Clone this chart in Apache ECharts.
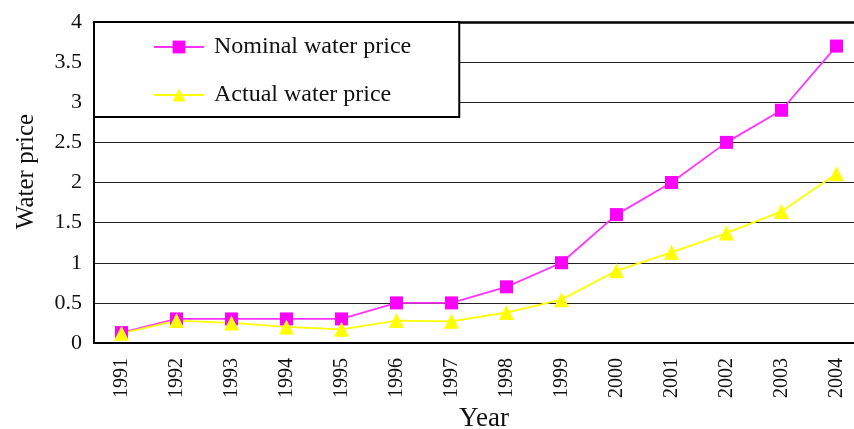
<!DOCTYPE html>
<html>
<head>
<meta charset="utf-8">
<script src="https://cdn.jsdelivr.net/npm/echarts@6/dist/echarts.min.js"></script>
<style>html,body{margin:0;padding:0;background:#fff;}#c{width:854px;height:429px;}</style>
</head>
<body>
<div id="c"></div>
<script>
const years = ['1991','1992','1993','1994','1995','1996','1997','1998','1999','2000','2001','2002','2003','2004'];
const nominalPrice = [0.13, 0.3, 0.3, 0.3, 0.3, 0.5, 0.5, 0.7, 1.0, 1.6, 2.0, 2.5, 2.9, 3.7];
const actualPrice = [0.12, 0.28, 0.25, 0.2, 0.17, 0.28, 0.27, 0.38, 0.54, 0.9, 1.13, 1.37, 1.64, 2.11];
const yTickLabels = ['0','0.5','1','1.5','2','2.5','3','3.5','4'];

const font = 'Liberation Serif';
const chart = echarts.init(document.getElementById('c'));
chart.setOption({
  animation: false,
  backgroundColor: '#fff',
  grid: {left: 94, right: -10, top: 22, bottom: 86, containLabel: false, outerBoundsMode: 'none'},
  legend: {
    orient: 'vertical',
    left: 94, top: 22,
    padding: [13, 48, 10, 59],
    itemWidth: 50, itemHeight: 16, itemGap: 24,
    backgroundColor: '#fff',
    borderColor: '#000', borderWidth: 2, borderRadius: 0,
    textStyle: {fontFamily: font, fontSize: 24, lineHeight: 24, color: '#111', padding: [0,0,0,5]},
    z: 10
  },
  xAxis: [{
    type: 'category', data: years, boundaryGap: true,
    axisLine: {lineStyle: {color: '#000', width: 2}},
    axisTick: {inside: true, length: 7, lineStyle: {color: '#000', width: 1.5}},
    axisLabel: {rotate: 90, margin: 15, fontFamily: font, fontSize: 20, color: '#111'},
    name: 'Year', nameLocation: 'middle', nameGap: 61,
    nameTextStyle: {fontFamily: font, fontSize: 27, color: '#111', padding: [0,0,0,10]}
  }, {
    type: 'category', data: years, position: 'top',
    axisLine: {show: true, lineStyle: {color: '#000', width: 2.5}},
    axisTick: {show: false}, axisLabel: {show: false}
  }],
  yAxis: {
    type: 'value', min: 0, max: 4, interval: 0.5,
    axisLine: {show: true, lineStyle: {color: '#000', width: 2}},
    axisTick: {show: false},
    axisLabel: {
      fontFamily: font, fontSize: 22, color: '#111', margin: 12,
      formatter: (v) => yTickLabels[Math.round(v / 0.5)]
    },
    splitLine: {show: true, lineStyle: {color: '#222', width: 1.2}},
    name: 'Water price', nameLocation: 'middle', nameRotate: 90, nameGap: 55,
    nameTextStyle: {fontFamily: font, fontSize: 25, color: '#111', padding: [0,0,0,22]}
  },
  series: [{
    name: 'Nominal water price', type: 'line', data: nominalPrice,
    symbol: 'rect', symbolSize: 13,
    itemStyle: {color: '#FF00FF'}, lineStyle: {color: '#FF33FF', width: 1.8}
  }, {
    name: 'Actual water price', type: 'line', data: actualPrice,
    symbol: 'triangle', symbolSize: 15,
    itemStyle: {color: '#FFFF00'}, lineStyle: {color: '#FFFF00', width: 1.8}
  }]
});
</script>
</body>
</html>
